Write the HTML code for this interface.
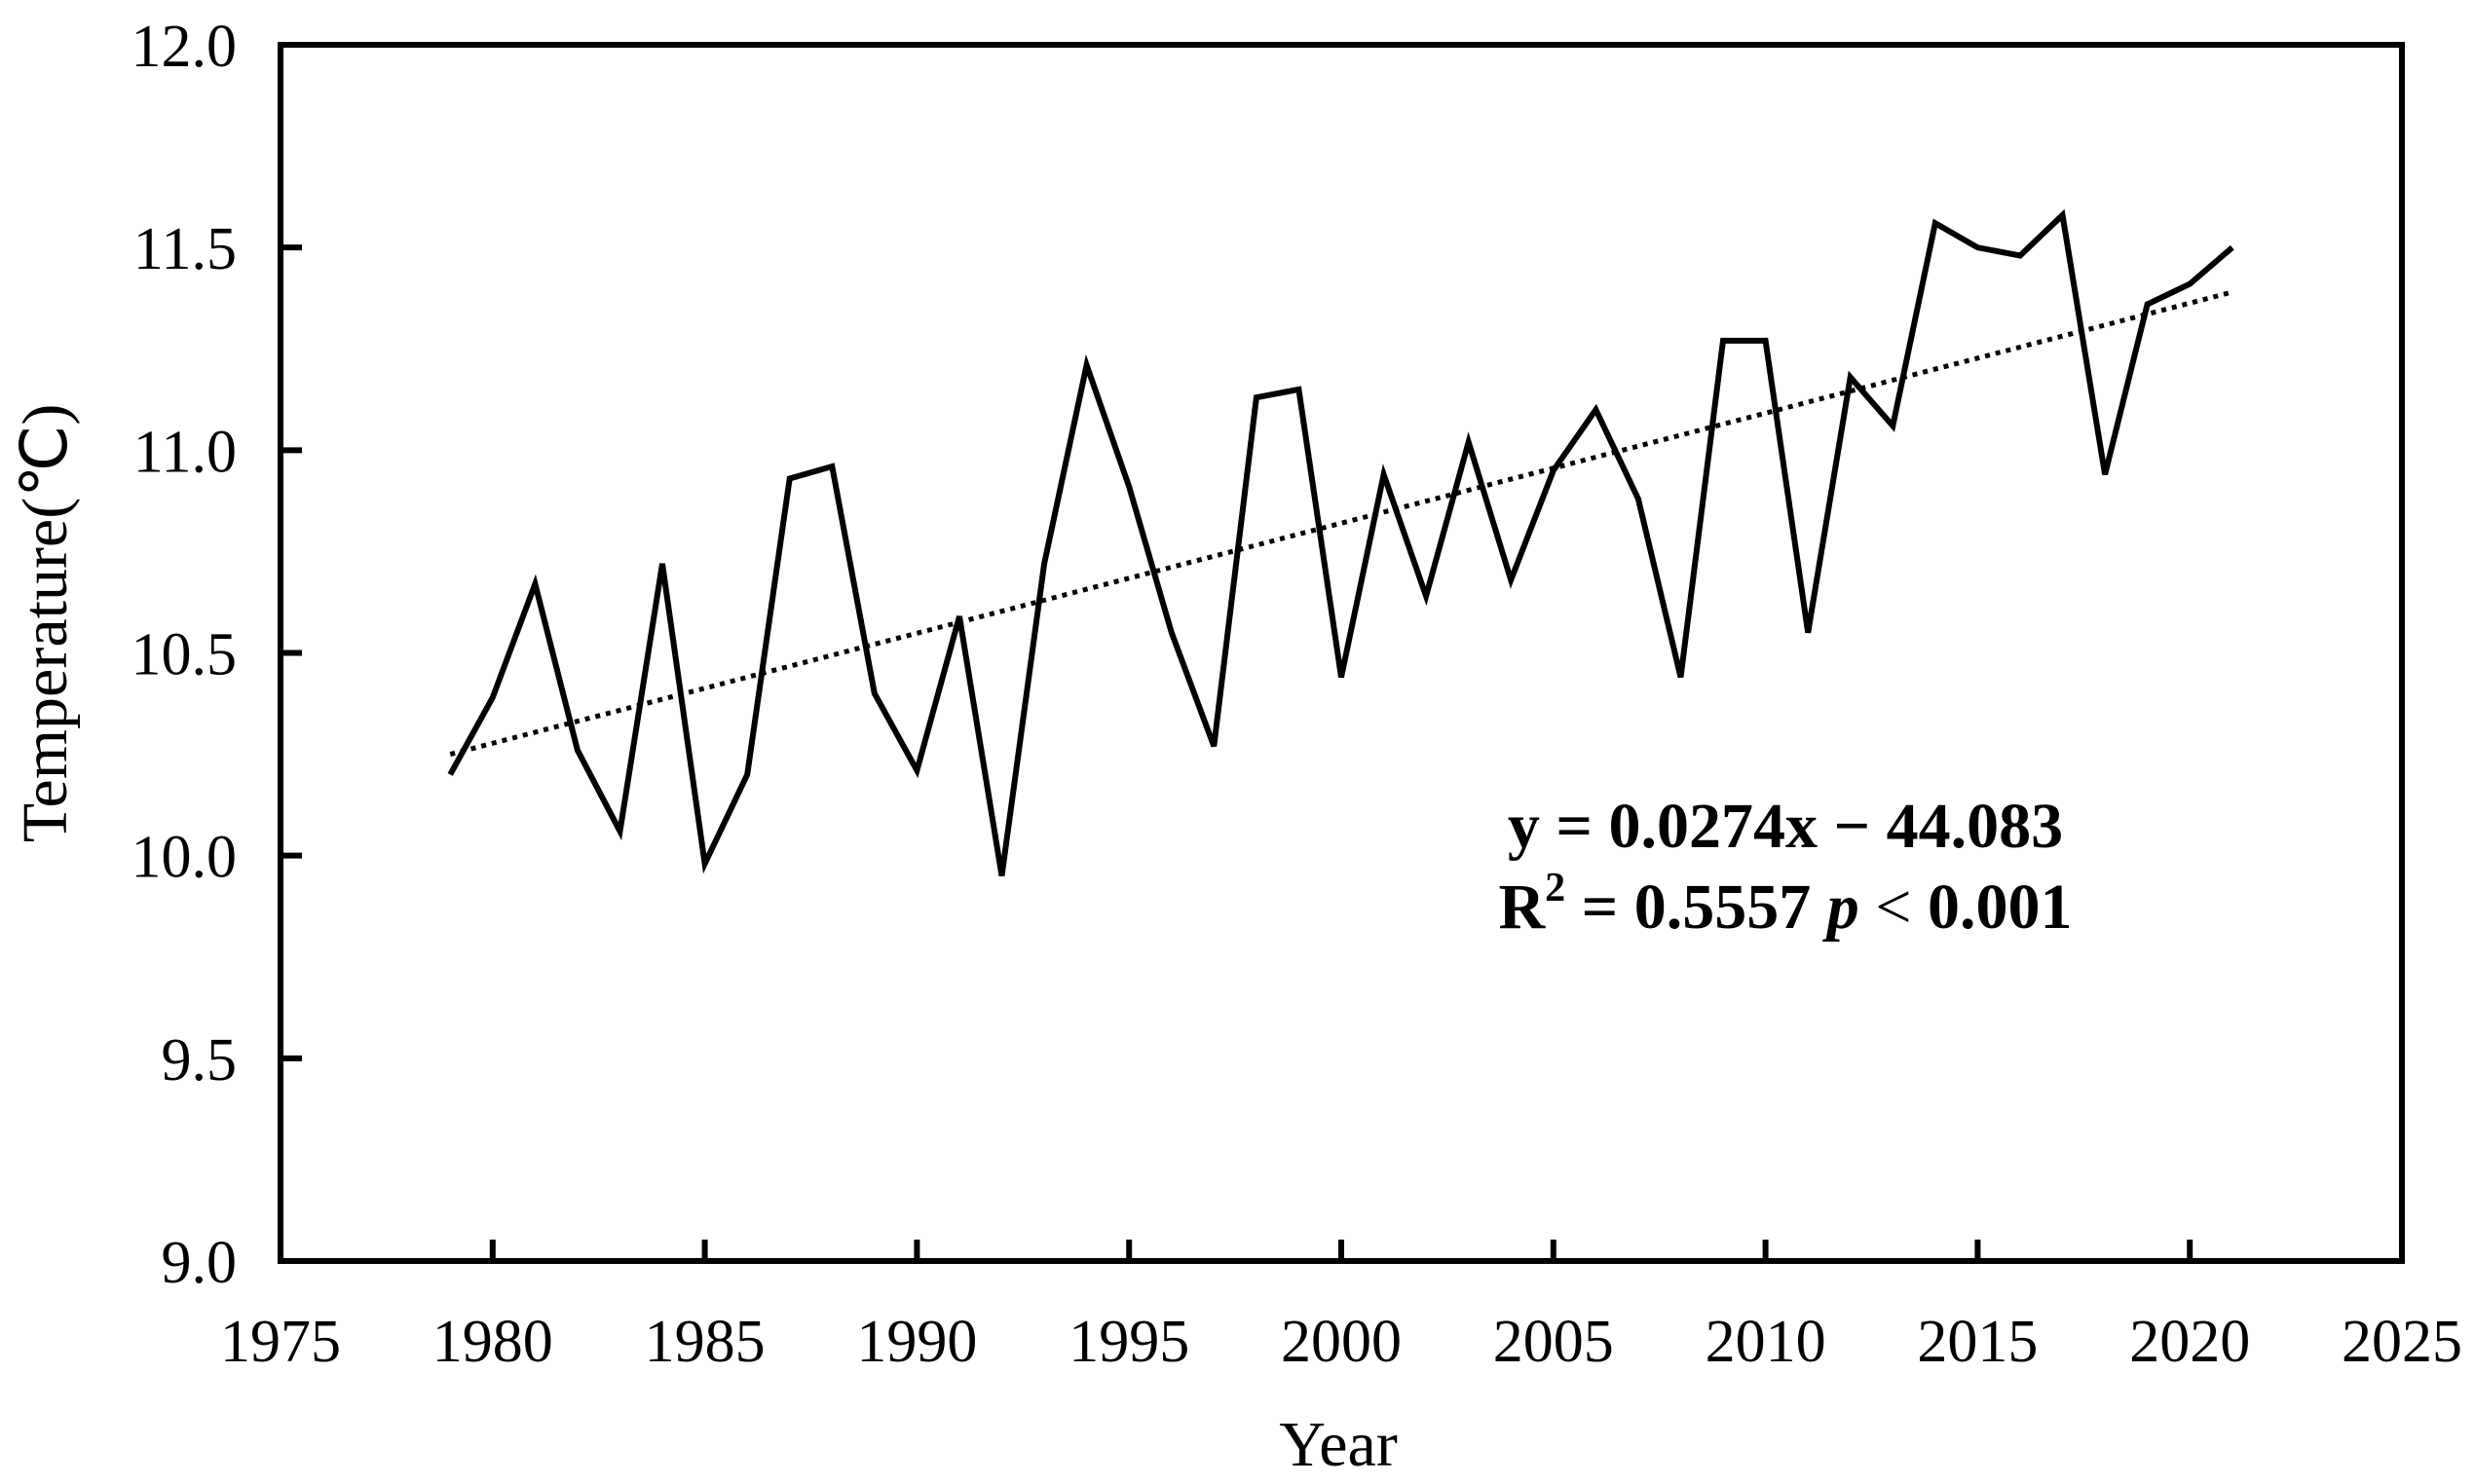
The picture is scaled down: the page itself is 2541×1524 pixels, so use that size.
<!DOCTYPE html>
<html><head><meta charset="utf-8"><style>
html,body{margin:0;padding:0;background:#fff;}
svg{display:block;font-family:"Liberation Serif",serif;}
</style></head><body>
<svg id="chart" width="2541" height="1524" viewBox="0 0 2541 1524" xmlns="http://www.w3.org/2000/svg"></svg>
<script>
const years = [1979,1980,1981,1982,1983,1984,1985,1986,1987,1988,1989,1990,1991,1992,1993,1994,1995,1996,1997,1998,1999,2000,2001,2002,2003,2004,2005,2006,2007,2008,2009,2010,2011,2012,2013,2014,2015,2016,2017,2018,2019,2020,2021];
const temps = [10.20,10.39,10.67,10.26,10.06,10.72,9.98,10.20,10.93,10.96,10.40,10.21,10.59,9.95,10.72,11.21,10.91,10.55,10.27,11.13,11.15,10.44,10.94,10.64,11.02,10.68,10.95,11.10,10.88,10.44,11.27,11.27,10.55,11.18,11.06,11.56,11.50,11.48,11.58,10.94,11.36,11.41,11.50];
const xTicks = [1975,1980,1985,1990,1995,2000,2005,2010,2015,2020,2025];
const yTicks = [9.0,9.5,10.0,10.5,11.0,11.5,12.0];
const trendStartEnd = [10.25,11.39];

const svg = document.getElementById('chart');
const NS = 'http://www.w3.org/2000/svg';
const L=288, R=2466, T=46, B=1295;
const xMin=1975, xMax=2025, yMin=9, yMax=12;
const sx = v => L + (v-xMin)/(xMax-xMin)*(R-L);
const sy = v => B - (v-yMin)/(yMax-yMin)*(B-T);
function mk(tag, attrs, text){
  const e=document.createElementNS(NS,tag);
  for(const k in attrs) e.setAttribute(k,attrs[k]);
  if(text!==undefined) e.textContent=text;
  svg.appendChild(e); return e;
}
xTicks.forEach(t=>{
  if(t>xMin && t<xMax){
    const tk=mk('line',{x1:sx(t),x2:sx(t),y1:B,y2:B-22,stroke:'#000','stroke-width':6});
    
    
  }
  const lb=mk('text',{x:sx(t),y:1398,'font-size':62,'text-anchor':'middle',fill:'#000'},String(t));
  
  
});
yTicks.forEach(t=>{
  if(t>yMin && t<yMax){
    const tk=mk('line',{x1:L,x2:L+22,y1:sy(t),y2:sy(t),stroke:'#000','stroke-width':6});
    
    
  }
  const lb=mk('text',{x:243,y:sy(t)+22,'font-size':62,'text-anchor':'end',fill:'#000'},t.toFixed(1));
  
  
});
const fr=mk('rect',{x:L,y:T,width:R-L,height:B-T,fill:'none',stroke:'#000','stroke-width':6});


const tr=mk('line',{x1:sx(years[0]),y1:sy(trendStartEnd[0]),x2:sx(years[years.length-1]),y2:sy(trendStartEnd[1]),stroke:'#000','stroke-width':5,'stroke-dasharray':'5 6'});


const pts=years.map((y,i)=>sx(y).toFixed(1)+','+sy(temps[i]).toFixed(1)).join(' ');
const ln=mk('polyline',{points:pts,fill:'none',stroke:'#000','stroke-width':6,'stroke-linejoin':'miter'});


const e1=mk('text',{x:1833,y:870,'font-size':66,'font-weight':'bold','text-anchor':'middle',fill:'#000'},'y = 0.0274x − 44.083');


const e2=mk('text',{x:1833,y:953,'font-size':66,'font-weight':'bold','text-anchor':'middle',fill:'#000'});


e2.innerHTML='R<tspan font-size="42" dy="-28">2</tspan><tspan dy="28"> = 0.5557 </tspan><tspan font-style="italic">  p</tspan><tspan font-weight="normal"> &lt; </tspan><tspan>0.001</tspan>';
const xt=mk('text',{x:1374,y:1505,'font-size':66,'text-anchor':'middle',fill:'#000'},'Year');


const yt=mk('text',{x:0,y:0,'font-size':66,'text-anchor':'middle',fill:'#000',transform:'translate(68,640) rotate(-90)'},'Temperature(℃)');


</script>
</body></html>
